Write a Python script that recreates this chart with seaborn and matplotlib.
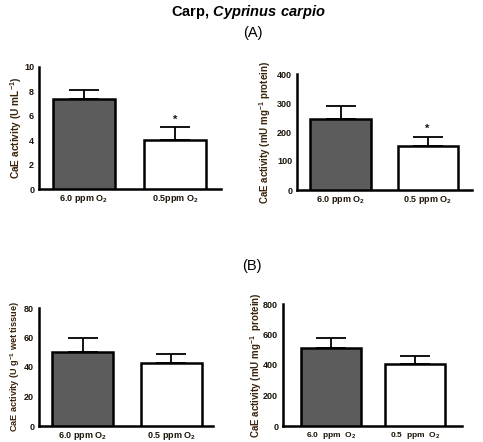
"""
Carp CaE activity - bar charts with SEM
"""
import matplotlib
matplotlib.use('Agg')
import matplotlib.pyplot as plt
import seaborn as sns
import pandas as pd

# data
groups = ['6.0 ppm', '0.5 ppm']
colors = ['#5c5c5c', '#ffffff']

a1_mean = [7.4, 4.05]
a1_sem = [0.75, 1.0]
a2_mean = [245, 153]
a2_sem = [43, 30]
b1_mean = [50, 43]
b1_sem = [9.5, 6.0]
b2_mean = [512, 405]
b2_sem = [62, 57]

a1_ticks = [0, 2, 4, 6, 8, 10]
a2_ticks = [0, 100, 200, 300, 400]
b1_ticks = [0, 20, 40, 60, 80]
b2_ticks = [0, 200, 400, 600, 800]

a1_xlabels = ['6.0 ppm O$_2$', '0.5ppm O$_2$']
a2_xlabels = ['6.0 ppm O$_2$', '0.5 ppm O$_2$']
b1_xlabels = ['6.0 ppm O$_2$', '0.5 ppm O$_2$']
b2_xlabels = ['6.0  ppm  O$_2$', '0.5  ppm  O$_2$']

sns.set_style('white')
plt.rcParams['font.family'] = ['Liberation Sans', 'DejaVu Sans']
plt.rcParams['mathtext.fontset'] = 'custom'
plt.rcParams['mathtext.rm'] = 'Liberation Sans:bold'
plt.rcParams['mathtext.it'] = 'Liberation Sans:bold:italic'
plt.rcParams['mathtext.bf'] = 'Liberation Sans:bold'
plt.rcParams['mathtext.default'] = 'regular'

W, H = 483, 442
fig = plt.figure(figsize=(W / 100, H / 100), dpi=100)
fig.patch.set_facecolor('white')

text_col = '#1c1408'


def px_rect(x0, x1, ytop, ybot):
    return [x0 / W, 1 - ybot / H, (x1 - x0) / W, (ybot - ytop) / H]


def draw_panel(rect, means, sems, ticks, xlabels, ylabel, xlim, width, ylabel_x,
               star=False, xfs=6.5, lab_fs=7):
    ax = fig.add_axes(rect)
    df = pd.DataFrame({'group': groups, 'value': means})
    sns.barplot(data=df, x='group', y='value', hue='group', palette=colors,
                legend=False, errorbar=None, width=width, edgecolor='black',
                linewidth=1.8, ax=ax, zorder=3)
    ax.errorbar([0, 1], means, yerr=[[0, 0], sems], fmt='none', ecolor='black',
                elinewidth=1.3, capsize=11, capthick=1.3, zorder=2)
    if star:
        ax.annotate('*', xy=(1, means[1] + sems[1]), xytext=(0, 2),
                    textcoords='offset points', ha='center', va='bottom',
                    fontsize=8, fontweight='bold', color=text_col)
    ax.set_xlim(*xlim)
    ax.set_ylim(ticks[0], ticks[-1])
    ax.set_yticks(ticks)
    ax.set_yticklabels([str(t) for t in ticks], fontsize=6.5, fontweight='bold', color=text_col)
    ax.set_xticks([0, 1])
    ax.set_xticklabels(xlabels, fontsize=xfs, fontweight='bold', color=text_col)
    ax.set_xlabel('')
    ax.set_ylabel('')
    fig.text(ylabel_x / W, rect[1] + rect[3] / 2, ylabel, rotation=90,
             ha='center', va='center', fontsize=lab_fs, fontweight='bold', color='#3a240c')
    for side in ['top', 'right']:
        ax.spines[side].set_visible(False)
    for side in ['left', 'bottom']:
        ax.spines[side].set_linewidth(1.8)
        ax.spines[side].set_color('black')
    ax.tick_params(axis='y', direction='out', length=3, width=1.5, pad=0.5)
    ax.tick_params(axis='x', direction='out', length=2, width=1.2, pad=1)
    ax.set_facecolor('white')
    return ax


draw_panel(px_rect(39, 221, 67, 189), a1_mean, a1_sem, a1_ticks, a1_xlabels,
           'CaE activity (U mL$^{-1}$)', (-0.49, 1.5), 0.68, 16, star=True, lab_fs=7.3)
draw_panel(px_rect(297, 472, 74, 190), a2_mean, a2_sem, a2_ticks, a2_xlabels,
           'CaE activity (mU mg$^{-1}$ protein)', (-0.5, 1.51), 0.69, 265, star=True, lab_fs=7)
draw_panel(px_rect(39, 213, 308, 426), b1_mean, b1_sem, b1_ticks, b1_xlabels,
           'CaE activity (U g$^{-1}$ wet tissue)', (-0.49, 1.47), 0.69, 15, lab_fs=6.6)
draw_panel(px_rect(283, 462, 304, 426), b2_mean, b2_sem, b2_ticks, b2_xlabels,
           'CaE activity (mU mg$^{-1}$  protein)', (-0.57, 1.56), 0.72, 256,
           xfs=6, lab_fs=7)

fig.text(248 / W, 1 - 12 / H, 'Carp, $\\mathit{Cyprinus\\ carpio}$', ha='center', va='center',
         fontsize=10.5, fontweight='bold', color='black')
fig.text(253 / W, 1 - 33 / H, '(A)', ha='center', va='center', fontsize=10.5, color='black')
fig.text(252 / W, 1 - 266 / H, '(B)', ha='center', va='center', fontsize=10.5, color='black')

fig.savefig('out.png', dpi=100)
